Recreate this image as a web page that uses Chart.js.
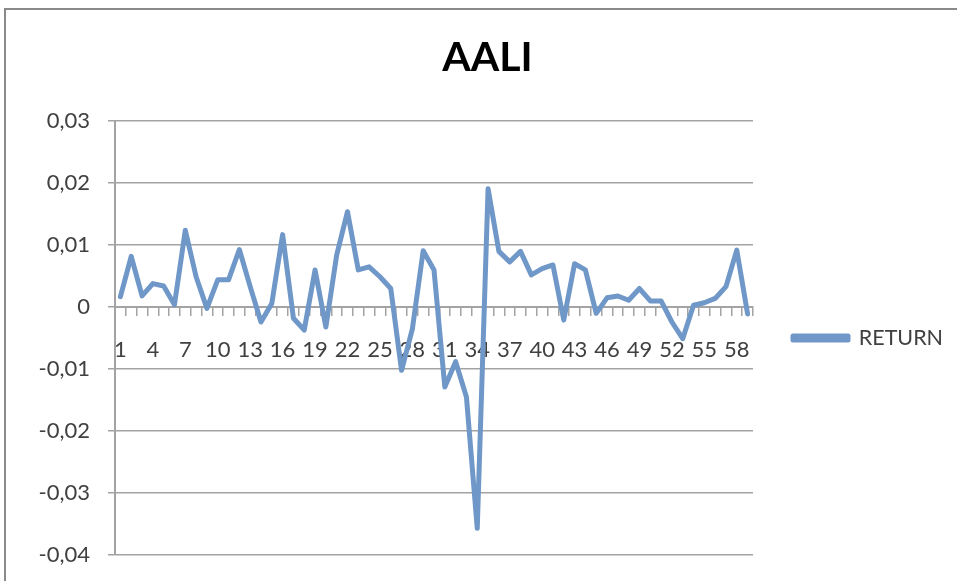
<!DOCTYPE html>
<html>
<head>
<meta charset="utf-8">
<script src="https://cdn.jsdelivr.net/npm/chart.js@4/dist/chart.umd.min.js"></script>
<style>
  html, body { margin: 0; padding: 0; background: #ffffff; overflow: hidden; }
  #wrap { position: absolute; left: 0; top: 0; width: 957px; height: 581px; }
  #frame { position: absolute; left: 4px; top: 8px; width: 980px; height: 600px;
           border-left: 2px solid #8a8a8a; border-top: 2px solid #8a8a8a; }
  canvas { position: absolute; left: 0; top: 0; }
</style>
</head>
<body>
<div id="wrap">
  <div id="frame"></div>
  <canvas id="c" width="957" height="581"></canvas>
</div>
<script>
const chartTitle = 'AALI';
const seriesName = 'RETURN';
const categories = [];
for (let i = 1; i <= 59; i++) categories.push(String(i));
const returns = [
  0.0017, 0.0082, 0.0018, 0.0038, 0.0034, 0.0004, 0.0124, 0.0049, -0.0002, 0.0044,
  0.0044, 0.0093, 0.0033, -0.0024, 0.0006, 0.0117, -0.0018, -0.0037, 0.0060, -0.0032,
  0.0084, 0.0154, 0.0060, 0.0065, 0.0049, 0.0030, -0.0102, -0.0035, 0.0091, 0.0060,
  -0.0129, -0.0088, -0.0145, -0.0357, 0.0191, 0.0090, 0.0073, 0.0090, 0.0052, 0.0062,
  0.0068, -0.0021, 0.0070, 0.0060, -0.0010, 0.0015, 0.0018, 0.0011, 0.0030, 0.0010,
  0.0010, -0.0024, -0.0051, 0.0003, 0.0007, 0.0014, 0.0033, 0.0092, -0.0011
];
const yMin = -0.04, yMax = 0.03, yStep = 0.01;

const lineColor = '#6f97c8';
const textColor = '#404040';
const gridColor = '#a3a3a3';
const FONT = 'Lato, "Open Sans", "DejaVu Sans", sans-serif';

function fmt(v) {
  const r = Math.round(v * 100) / 100;
  if (r === 0) return '0';
  return r.toFixed(2).replace('.', ',');
}

// legend: fixed width, and vertically centred on the plot area (as in Excel)
const legendPlacePlugin = {
  id: 'legendPlace',
  beforeLayout(chart) {
    const lg = chart.legend;
    if (lg && !lg._patched) {
      const orig = lg.fit;
      lg.fit = function() { orig.call(this); this.width = 192; };
      lg._patched = true;
    }
  },
  afterLayout(chart) {
    const lg = chart.legend;
    if (lg) {
      lg.top = chart.chartArea.top;
      lg.bottom = chart.chartArea.bottom;
      lg.height = lg.bottom - lg.top;
    }
  }
};

new Chart(document.getElementById('c'), {
  type: 'line',
  data: {
    labels: categories,
    datasets: [{
      label: seriesName,
      data: returns,
      borderColor: lineColor,
      backgroundColor: lineColor,
      borderWidth: 5,
      pointRadius: 0,
      tension: 0,
      borderJoinStyle: 'round',
      borderCapStyle: 'round'
    }]
  },
  plugins: [legendPlacePlugin],
  options: {
    responsive: false,
    animation: false,
    layout: { padding: { left: 30, right: 12, top: 33, bottom: 26 } },
    plugins: {
      title: {
        display: true,
        text: chartTitle,
        color: '#000000',
        font: { family: FONT, size: 41, weight: 'bold' },
        padding: { top: 0, bottom: 39 }
      },
      legend: {
        display: true,
        position: 'right',
        labels: {
          boxWidth: 55,
          boxHeight: 4,
          color: textColor,
          font: { family: FONT, size: 21.5 },
          padding: 40
        }
      },
      tooltip: { enabled: false }
    },
    scales: {
      x: {
        type: 'category',
        position: { y: 0 },
        offset: true,
        afterFit: function(s) { s.paddingTop = 0; s.paddingBottom = 0; },
        grid: {
          display: true,
          drawOnChartArea: false,
          drawTicks: true,
          tickLength: 8,
          color: gridColor,
          lineWidth: 1.5,
          offset: true
        },
        border: { display: true, color: gridColor, width: 2 },
        ticks: {
          autoSkip: false,
          maxRotation: 0,
          minRotation: 0,
          padding: 22,
          color: textColor,
          font: { family: FONT, size: 22 },
          callback: function(v, i) { return i % 3 === 0 ? categories[i] : ''; }
        }
      },
      y: {
        min: yMin,
        max: yMax,
        afterFit: function(s) { s.width = 85; s.paddingTop = 0; s.paddingBottom = 0; },
        grid: {
          color: gridColor,
          lineWidth: 1.5,
          tickLength: 7
        },
        border: { display: true, color: gridColor, width: 2 },
        ticks: {
          stepSize: yStep,
          padding: 18,
          color: textColor,
          font: { family: FONT, size: 22 },
          callback: function(v) { return fmt(v); }
        }
      }
    }
  }
});
</script>
</body>
</html>
